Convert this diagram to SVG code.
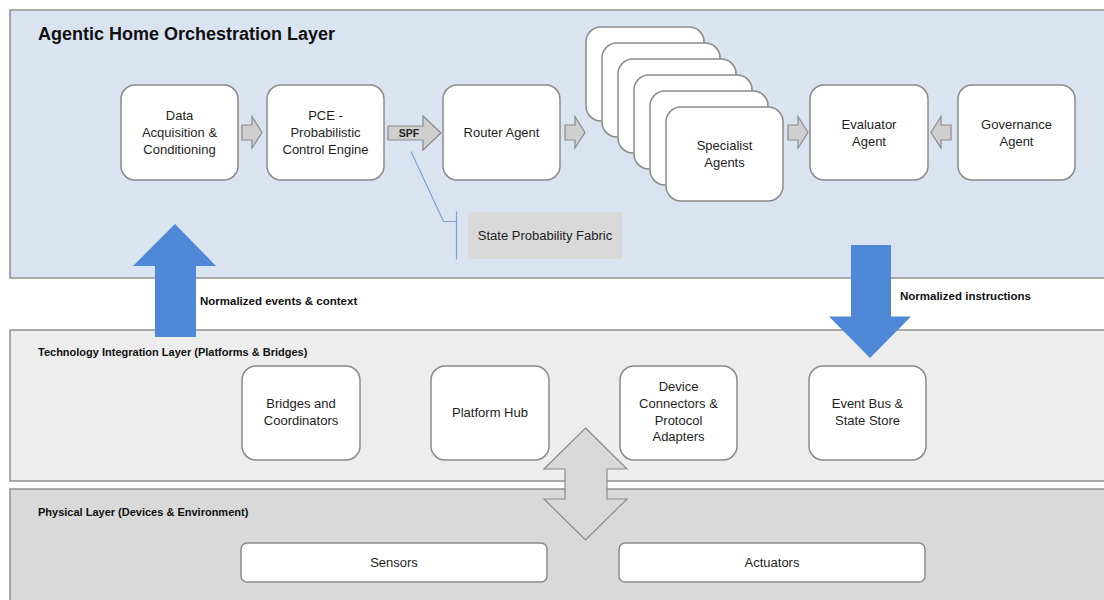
<svg xmlns="http://www.w3.org/2000/svg" width="1104" height="600" viewBox="0 0 1104 600">
<style>
.layer{stroke:#8e8e8e;stroke-width:1.5}
.node{fill:#ffffff;stroke:#8a8a8a;stroke-width:1.5}
.t{font-family:"Liberation Sans",Arial,sans-serif;font-size:13px;fill:#1e1e1e;text-anchor:middle}
.lt{font-family:"Liberation Sans",Arial,sans-serif;font-size:11px;font-weight:bold;fill:#111}
.lbl{font-family:"Liberation Sans",Arial,sans-serif;font-size:11.5px;font-weight:bold;fill:#111}
.garrow{fill:#cfcfcf;stroke:#8a8a8a;stroke-width:1.2}
.barrow{fill:#4f88d6}
</style>
<rect width="1104" height="600" fill="#ffffff"/>
<g id="layer-orchestration">
<rect class="layer" x="10" y="10" width="1110" height="268" fill="#dae3f0"/>
<text x="38" y="40" font-family="Liberation Sans,Arial,sans-serif" font-size="18" font-weight="bold" fill="#111">Agentic Home Orchestration Layer</text>
</g>
<g id="layer-integration">
<rect class="layer" x="10" y="330" width="1110" height="151" fill="#ededed"/>
<text class="lt" x="38" y="355.5">Technology Integration Layer (Platforms &amp; Bridges)</text>
</g>
<g id="layer-physical">
<rect class="layer" x="10" y="489" width="1110" height="125" fill="#d9d9d9"/>
<text class="lt" x="38" y="516">Physical Layer (Devices &amp; Environment)</text>
</g>

<g id="data-acquisition">
<rect class="node" x="121" y="85" width="117" height="95" rx="14"/>
<text class="t" x="179.5" y="120">Data</text>
<text class="t" x="179.5" y="137">Acquisition &amp;</text>
<text class="t" x="179.5" y="154">Conditioning</text>
</g>
<g id="pce">
<rect class="node" x="267" y="85" width="117" height="95" rx="14"/>
<text class="t" x="325.5" y="120">PCE -</text>
<text class="t" x="325.5" y="137">Probabilistic</text>
<text class="t" x="325.5" y="154">Control Engine</text>
</g>
<g id="router-agent">
<rect class="node" x="443" y="85" width="117" height="95" rx="14"/>
<text class="t" x="501.5" y="137">Router Agent</text>
</g>
<g id="specialist-agents">
<rect class="node" x="586" y="27" width="118" height="94" rx="15"/>
<rect class="node" x="602" y="43" width="118" height="94" rx="15"/>
<rect class="node" x="618" y="59" width="118" height="94" rx="15"/>
<rect class="node" x="634" y="75" width="118" height="94" rx="15"/>
<rect class="node" x="650" y="91" width="118" height="94" rx="15"/>
<rect class="node" x="666" y="107" width="117" height="94" rx="15"/>
<text class="t" x="724.5" y="149.5">Specialist</text>
<text class="t" x="724.5" y="166.5">Agents</text>
</g>
<g id="evaluator-agent">
<rect class="node" x="810" y="85" width="118" height="95" rx="14"/>
<text class="t" x="869" y="128.5">Evaluator</text>
<text class="t" x="869" y="145.5">Agent</text>
</g>
<g id="governance-agent">
<rect class="node" x="958" y="85" width="117" height="95" rx="14"/>
<text class="t" x="1016.5" y="128.5">Governance</text>
<text class="t" x="1016.5" y="145.5">Agent</text>
</g>
<g id="state-probability-fabric">
<rect x="468" y="212" width="154" height="47" fill="#d9d9d9"/>
<text class="t" x="545" y="239.5" font-size="11.5">State Probability Fabric</text>
</g>

<g id="bridges">
<rect class="node" x="242" y="366" width="118" height="94" rx="14"/>
<text class="t" x="301" y="408">Bridges and</text>
<text class="t" x="301" y="425">Coordinators</text>
</g>
<g id="platform-hub">
<rect class="node" x="431" y="366" width="118" height="94" rx="14"/>
<text class="t" x="490" y="417">Platform Hub</text>
</g>
<g id="device-connectors">
<rect class="node" x="620" y="366" width="117" height="94" rx="14"/>
<text class="t" x="678.5" y="391">Device</text>
<text class="t" x="678.5" y="408">Connectors &amp;</text>
<text class="t" x="678.5" y="424.5">Protocol</text>
<text class="t" x="678.5" y="441">Adapters</text>
</g>
<g id="event-bus">
<rect class="node" x="809" y="366" width="117" height="94" rx="14"/>
<text class="t" x="867.5" y="408">Event Bus &amp;</text>
<text class="t" x="867.5" y="425">State Store</text>
</g>

<g id="sensors">
<rect class="node" x="241" y="543" width="306" height="39" rx="6"/>
<text class="t" x="394" y="567">Sensors</text>
</g>
<g id="actuators">
<rect class="node" x="619" y="543" width="306" height="39" rx="6"/>
<text class="t" x="772" y="567">Actuators</text>
</g>

<g id="connectors">
<path class="garrow" d="M242,125 H252 V116.5 L262,132.5 L252,148 V140 H242 Z"/>
<path class="garrow" d="M388,126 H423 V116 L441,133 L423,150 V140 H388 Z"/>
<text x="409" y="137" text-anchor="middle" font-family="Liberation Sans,Arial,sans-serif" font-size="10.5" font-weight="bold" fill="#222">SPF</text>
<path class="garrow" d="M565,125 H575 V116.5 L585,132.5 L575,148 V140 H565 Z"/>
<path class="garrow" d="M788,125 H798 V116.5 L808,132.5 L798,148 V140 H788 Z"/>
<path class="garrow" d="M951,125 H941 V116.5 L931,132.5 L941,148 V140 H951 Z"/>
<path d="M411,151.5 L443.5,221.5 H456.5" fill="none" stroke="#7fa0d2" stroke-width="1.2"/>
<path d="M456.5,211.5 V259.5" fill="none" stroke="#7fa0d2" stroke-width="1.2"/>
<path class="barrow" d="M175,224 L216,266 H196 V337 H155 V266 H133 Z"/>
<text class="lbl" x="200" y="305">Normalized events &amp; context</text>
<path class="barrow" d="M851,245 H891 V316.5 H911 L870,358 L829,316.5 H851 Z"/>
<text class="lbl" x="900" y="300">Normalized instructions</text>
<path fill="#d9d9d9" stroke="#8a8a8a" stroke-width="1.2" d="M585.5,428 L627,469 H607 V499 H627 L585.5,540 L544,499 H565 V469 H544 Z"/>
</g>
</svg>
